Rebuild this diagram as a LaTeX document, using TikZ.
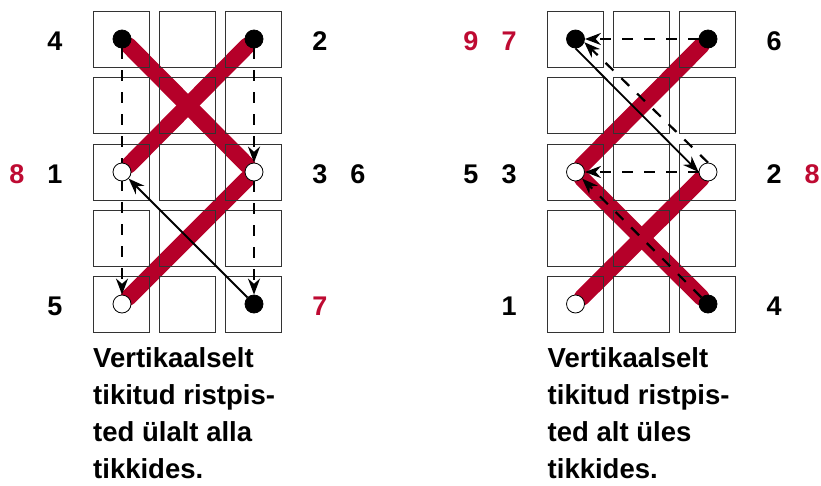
\documentclass[tikz,border=0pt]{standalone}
\usepackage{fontspec}
\setmainfont{Liberation Sans}
\usetikzlibrary{arrows.meta}
\pgfdeclarelayer{bands}
\pgfdeclarelayer{dots}
\pgfsetlayers{bands,main,dots}
\definecolor{stitchred}{RGB}{181,0,41}
\definecolor{numred}{RGB}{190,10,50}
\tikzset{
  cellbox/.style={draw=black!80,line width=0.9pt},
  band/.style={draw=stitchred,line cap=round,line width=16.5pt},
  dotfull/.style={circle,draw=black,fill=black,line width=0.8pt,inner sep=0pt,minimum size=18pt},
  dotopen/.style={dotfull,fill=white},
  backstep/.style={line width=2.2pt,dash pattern=on 11pt off 11pt,-{Stealth[length=16pt,width=12pt]}},
  frontstep/.style={line width=1.8pt,-{Stealth[length=16pt,width=12pt]}},
  numlabel/.style={font=\fontsize{27}{27}\selectfont\bfseries},
  rednum/.style={numlabel,text=numred},
  caption/.style={anchor=north west,align=left,inner sep=0pt,font=\fontsize{27.5}{36.8}\selectfont\bfseries},
}
\newcommand{\stitchgrid}[1]{%
  \foreach \cx in {0,66,132}
    \foreach \cy in {11.5,77.5,144,210,276}
      \draw[cellbox] (#1+\cx,\cy) rectangle ++(56,56);
}
\begin{document}
\begin{tikzpicture}[x=1pt,y=-1pt]
  \useasboundingbox (0,0) rectangle (821,485);
  \stitchgrid{93.5}
  \stitchgrid{547.5}
  \begin{pgfonlayer}{dots}
    \node[dotfull] (ltl) at (122,39) {};
    \node[dotfull] (ltr) at (254,39) {};
    \node[dotopen] (lml) at (122,172) {};
    \node[dotopen] (lmr) at (254,172) {};
    \node[dotopen] (lbl) at (122,304) {};
    \node[dotfull] (lbr) at (254,304) {};
    \node[dotfull] (rtl) at (575.5,39) {};
    \node[dotfull] (rtr) at (708,39) {};
    \node[dotopen] (rml) at (575.5,172) {};
    \node[dotopen] (rmr) at (708,172) {};
    \node[dotopen] (rbl) at (575.5,304) {};
    \node[dotfull] (rbr) at (708,304) {};
  \end{pgfonlayer}
  \begin{pgfonlayer}{bands}
    \draw[band] (ltl) -- (lmr);
    \draw[band] (ltr) -- (lml);
    \draw[band] (lmr) -- (lbl);
    \draw[band] (rtr) -- (rml);
    \draw[band] (rml) -- (rbr);
    \draw[band] (rmr) -- (rbl);
  \end{pgfonlayer}
  % Stitches on the back are dashed, the front ones solid.
  \draw[backstep] (ltl) -- (lbl);
  \draw[backstep] (ltr) -- (lmr);
  \draw[backstep] (lmr) -- (lbr);
  \draw[frontstep] (lbr) -- (lml);
  \draw[backstep] (rtr) -- (rtl);
  \draw[backstep] (rmr.north) -- (rtl.-20);
  \draw[backstep] (rmr) -- (rml);
  \draw[backstep] (rbr) -- (rml);
  \draw[frontstep] (rtl.south) -- (rmr.west);
  % Stitch order beside the rows.
  \node[numlabel] (lfour) at (55,41) {4};
  \node[numlabel] (ltwo) at (320,41) {2};
  \node[rednum] (leight) at (17,174) {8};
  \node[numlabel] (lone) at (55,174) {1};
  \node[numlabel] (lthree) at (320,174) {3};
  \node[numlabel] (lsix) at (358,174) {6};
  \node[numlabel] (lfive) at (55,306) {5};
  \node[rednum] (lseven) at (320,306) {7};
  \node[rednum] (rnine) at (471,41) {9};
  \node[rednum] (rseven) at (509,41) {7};
  \node[numlabel] (rsix) at (774,41) {6};
  \node[numlabel] (rfive) at (471,174) {5};
  \node[numlabel] (rthree) at (509,174) {3};
  \node[numlabel] (rtwo) at (774,174) {2};
  \node[rednum] (reight) at (812,174) {8};
  \node[numlabel] (rone) at (509,306) {1};
  \node[numlabel] (rfour) at (774,306) {4};
  \node[caption] (lcaption) at (93,347.5) {Vertikaalselt\\tikitud ristpis-\\ted ülalt alla\\tikkides.};
  \node[caption] (rcaption) at (547.5,347.5) {Vertikaalselt\\tikitud ristpis-\\ted alt üles\\tikkides.};
\end{tikzpicture}
\end{document}
